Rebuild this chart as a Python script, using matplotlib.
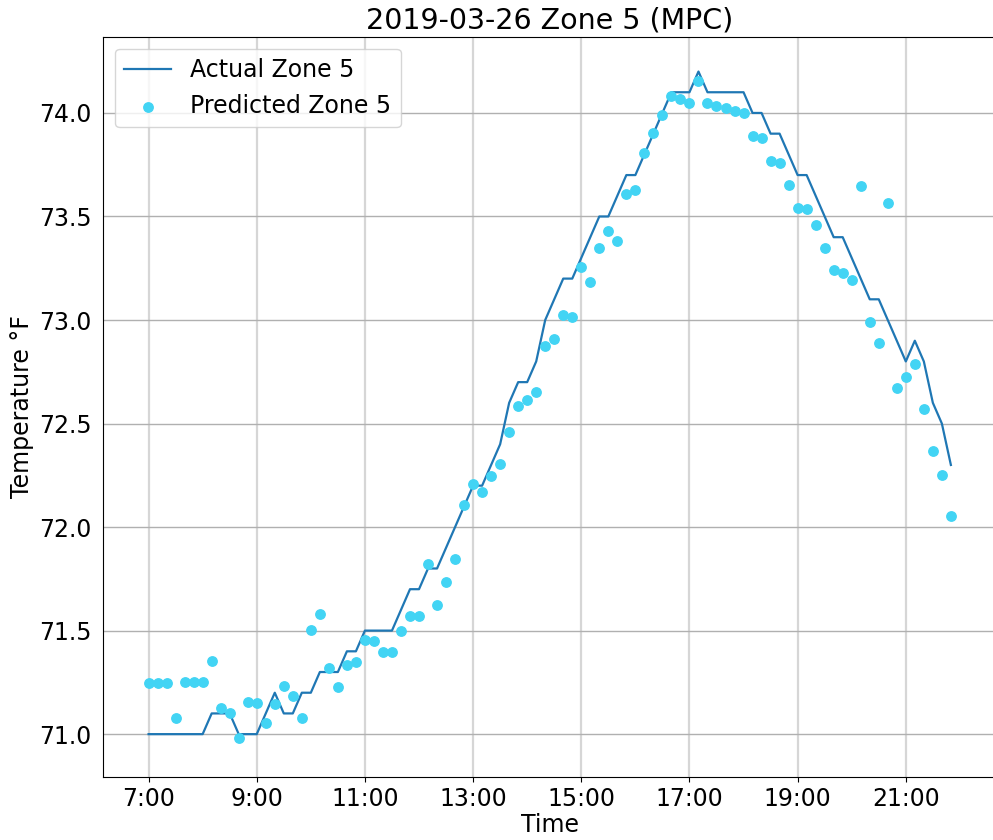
import numpy as np
import pandas as pd
import matplotlib
matplotlib.use("Agg")
from matplotlib import pyplot as plt
from matplotlib.ticker import FuncFormatter

# readings every 10 minutes, 7:00 to 21:50
start_hour = 7.0
step_minutes = 10

actual = [71.0, 71.0, 71.0, 71.0, 71.0, 71.0, 71.0, 71.1, 71.1, 71.1,
          71.0, 71.0, 71.0, 71.1, 71.2, 71.1, 71.1, 71.2, 71.2, 71.3,
          71.3, 71.3, 71.4, 71.4, 71.5, 71.5, 71.5, 71.5, 71.6, 71.7,
          71.7, 71.8, 71.8, 71.9, 72.0, 72.1, 72.2, 72.2, 72.3, 72.4,
          72.6, 72.7, 72.7, 72.8, 73.0, 73.1, 73.2, 73.2, 73.3, 73.4,
          73.5, 73.5, 73.6, 73.7, 73.7, 73.8, 73.9, 74.0, 74.1, 74.1,
          74.1, 74.2, 74.1, 74.1, 74.1, 74.1, 74.1, 74.0, 74.0, 73.9,
          73.9, 73.8, 73.7, 73.7, 73.6, 73.5, 73.4, 73.4, 73.3, 73.2,
          73.1, 73.1, 73.0, 72.9, 72.8, 72.9, 72.8, 72.6, 72.5, 72.3]

predicted = [71.245, 71.245, 71.245, 71.076, 71.254, 71.254, 71.254, 71.354, 71.124, 71.101,
             70.982, 71.153, 71.150, 71.052, 71.145, 71.231, 71.182, 71.077, 71.502, 71.582,
             71.320, 71.227, 71.334, 71.347, 71.454, 71.451, 71.396, 71.396, 71.496, 71.570,
             71.570, 71.824, 71.626, 71.736, 71.844, 72.108, 72.206, 72.169, 72.248, 72.303,
             72.458, 72.584, 72.614, 72.653, 72.873, 72.910, 73.022, 73.016, 73.258, 73.185,
             73.349, 73.429, 73.382, 73.607, 73.630, 73.809, 73.901, 73.990, 74.080, 74.069,
             74.050, 74.156, 74.046, 74.035, 74.022, 74.011, 74.000, 73.889, 73.879, 73.770,
             73.758, 73.650, 73.540, 73.534, 73.457, 73.349, 73.241, 73.228, 73.194, 73.645,
             72.988, 72.890, 73.566, 72.672, 72.726, 72.787, 72.568, 72.366, 72.252, 72.052]

hours = start_hour + np.arange(len(actual)) * step_minutes / 60.0
tick_hours = [7, 9, 11, 13, 15, 17, 19, 21]

plt.rcParams['font.size'] = 17

fig = plt.figure(figsize=(9.93, 8.4), dpi=100)
ax = fig.add_axes([0.1037, 0.075, 0.9, 0.881])

ax.plot(hours, actual, color='#1f77b4', lw=1.6, label='Actual Zone 5')
ax.scatter(hours, predicted, color='#42d4f4', s=46, zorder=3, label='Predicted Zone 5')

ax.set_xticks(tick_hours)
ax.xaxis.set_major_formatter(FuncFormatter(lambda v, p: '%d:00' % int(round(v))))
ax.set_xlim(6.157, 22.68)
ax.set_ylim(70.793, 74.367)
ax.set_yticks([71.0, 71.5, 72.0, 72.5, 73.0, 73.5, 74.0])
ax.tick_params(axis='y', length=0, pad=8)

ax.grid(axis='x', color='#d6d6d6', lw=1.6)
ax.grid(axis='y', color='#b0b0b0', lw=1.0)
ax.set_axisbelow(True)

ax.set_title('2019-03-26 Zone 5 (MPC)', fontsize=20.5)
ax.set_xlabel('Time', labelpad=2)
ax.set_ylabel('Temperature °F')
ax.legend(loc='upper left')

fig.savefig('out.png', dpi=100)
